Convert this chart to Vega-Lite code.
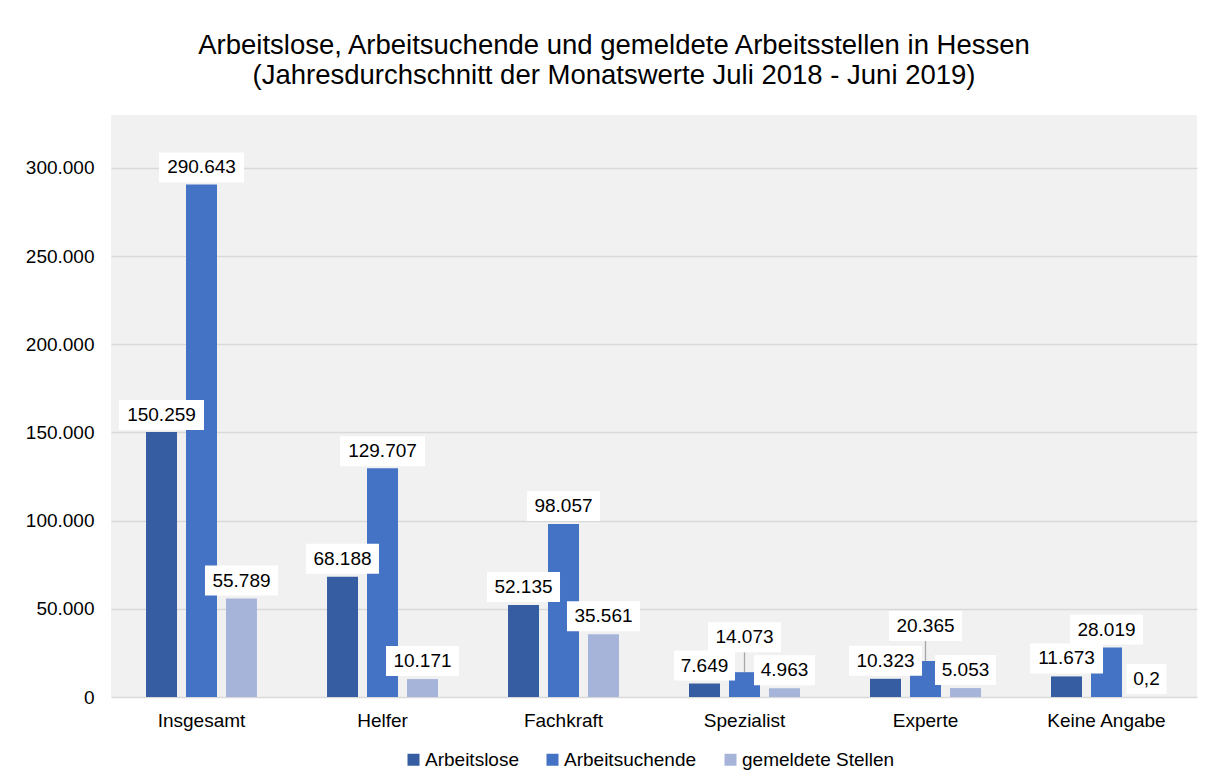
{
  "$schema": "https://vega.github.io/schema/vega-lite/v6.json",
  "autosize": "none",
  "width": 1086,
  "height": 582,
  "padding": {"left": 111, "top": 115, "right": 8, "bottom": 85},
  "background": "white",
  "config": {
    "locale": {"number": {"decimal": ",", "thousands": ".", "grouping": [3], "currency": ["", " €"]}},
    "font": "Liberation Sans",
    "view": {"fill": "#f1f1f1", "stroke": null}
  },
  "title": {
    "text": ["Arbeitslose, Arbeitsuchende und gemeldete Arbeitsstellen in Hessen", "(Jahresdurchschnitt der Monatswerte Juli 2018 - Juni 2019)"],
    "font": "Liberation Sans",
    "fontSize": 27.5,
    "fontWeight": "normal",
    "color": "#000000",
    "anchor": "middle",
    "dx": -40,
    "offset": 26,
    "lineHeight": 30
  },
  "data": {
    "values": [
      {"category": "Insgesamt", "series": "Arbeitslose", "value": 150259},
      {"category": "Insgesamt", "series": "Arbeitsuchende", "value": 290643},
      {"category": "Insgesamt", "series": "gemeldete Stellen", "value": 55789},
      {"category": "Helfer", "series": "Arbeitslose", "value": 68188},
      {"category": "Helfer", "series": "Arbeitsuchende", "value": 129707},
      {"category": "Helfer", "series": "gemeldete Stellen", "value": 10171},
      {"category": "Fachkraft", "series": "Arbeitslose", "value": 52135},
      {"category": "Fachkraft", "series": "Arbeitsuchende", "value": 98057},
      {"category": "Fachkraft", "series": "gemeldete Stellen", "value": 35561},
      {"category": "Spezialist", "series": "Arbeitslose", "value": 7649},
      {"category": "Spezialist", "series": "Arbeitsuchende", "value": 14073},
      {"category": "Spezialist", "series": "gemeldete Stellen", "value": 4963},
      {"category": "Experte", "series": "Arbeitslose", "value": 10323},
      {"category": "Experte", "series": "Arbeitsuchende", "value": 20365},
      {"category": "Experte", "series": "gemeldete Stellen", "value": 5053},
      {"category": "Keine Angabe", "series": "Arbeitslose", "value": 11673},
      {"category": "Keine Angabe", "series": "Arbeitsuchende", "value": 28019},
      {"category": "Keine Angabe", "series": "gemeldete Stellen", "value": 0.2}
    ]
  },
  "encoding": {
    "x": {
      "field": "category", "type": "nominal", "sort": null,
      "scale": {"paddingInner": 0.387, "paddingOuter": 0.1935},
      "axis": {"title": null, "labelAngle": 0, "labelFontSize": 19, "labelColor": "#000000", "labelPadding": 14, "ticks": false, "domain": false, "labelFont": "Liberation Sans"}
    },
    "xOffset": {
      "field": "series", "type": "nominal",
      "sort": ["Arbeitslose", "Arbeitsuchende", "gemeldete Stellen"],
      "scale": {"paddingInner": 0.225, "paddingOuter": 0}
    },
    "y": {
      "field": "value", "type": "quantitative",
      "scale": {"domain": [0, 330000], "nice": false, "zero": true},
      "axis": {"title": null, "values": [0, 50000, 100000, 150000, 200000, 250000, 300000], "format": ",.0f", "labelFontSize": 19, "labelColor": "#000000", "labelPadding": 17, "ticks": false, "domain": false, "gridColor": "#d9d9d9", "gridWidth": 1.5, "labelFont": "Liberation Sans"}
    }
  },
  "layer": [
    {
      "mark": {"type": "bar"},
      "encoding": {
        "color": {
          "field": "series", "type": "nominal",
          "sort": ["Arbeitslose", "Arbeitsuchende", "gemeldete Stellen"],
          "scale": {"domain": ["Arbeitslose", "Arbeitsuchende", "gemeldete Stellen"], "range": ["#365ca1", "#4472c4", "#a6b4da"]},
          "legend": {
            "title": null, "orient": "none", "direction": "horizontal",
            "legendX": 293, "legendY": 635, "padding": 0,
            "symbolType": "square", "symbolSize": 144, "symbolStrokeWidth": 0,
            "labelFontSize": 19, "labelFont": "Liberation Sans", "labelColor": "#000000",
            "labelOffset": 2, "columnPadding": 24
          }
        }
      }
    },
    {
      "transform": [{"filter": "datum.series == 'Arbeitsuchende' && (datum.category == 'Spezialist' || datum.category == 'Experte')"}],
      "mark": {"type": "rule", "color": "#a6a6a6", "strokeWidth": 1.3, "y2Offset": -20},
      "encoding": {"y2": {"field": "value"}}
    },
    {
      "transform": [{"filter": "datum.value >= 100000"}],
      "mark": {"type": "point", "shape": "M-1,-0.353L1,-0.353L1,0.353L-1,0.353Z", "size": 7225, "filled": true, "fill": "white", "opacity": 1, "strokeWidth": 0, "yOffset": -17}
    },
    {
      "transform": [{"filter": "datum.value >= 10000 && datum.value < 100000 && !(datum.series == 'Arbeitsuchende' && (datum.category == 'Spezialist' || datum.category == 'Experte'))"}],
      "mark": {"type": "point", "shape": "M-1,-0.411L1,-0.411L1,0.411L-1,0.411Z", "size": 5329, "filled": true, "fill": "white", "opacity": 1, "strokeWidth": 0, "yOffset": -18}
    },
    {
      "transform": [{"filter": "datum.series == 'Arbeitsuchende' && (datum.category == 'Spezialist' || datum.category == 'Experte')"}],
      "mark": {"type": "point", "shape": "M-1,-0.411L1,-0.411L1,0.411L-1,0.411Z", "size": 5329, "filled": true, "fill": "white", "opacity": 1, "strokeWidth": 0, "yOffset": -35}
    },
    {
      "transform": [{"filter": "datum.value >= 1 && datum.value < 10000"}],
      "mark": {"type": "point", "shape": "M-1,-0.492L1,-0.492L1,0.492L-1,0.492Z", "size": 3721, "filled": true, "fill": "white", "opacity": 1, "strokeWidth": 0, "yOffset": -18}
    },
    {
      "transform": [{"filter": "datum.value < 1"}],
      "mark": {"type": "point", "shape": "M-1,-0.75L1,-0.75L1,0.75L-1,0.75Z", "size": 1600, "filled": true, "fill": "white", "opacity": 1, "strokeWidth": 0, "yOffset": -18}
    },
    {
      "transform": [{"filter": "datum.value >= 100000"}],
      "mark": {"type": "text", "fontSize": 19, "font": "Liberation Sans", "color": "#000000", "baseline": "middle", "yOffset": -17},
      "encoding": {"text": {"field": "value", "type": "quantitative", "format": ","}}
    },
    {
      "transform": [{"filter": "datum.value < 100000 && !(datum.series == 'Arbeitsuchende' && (datum.category == 'Spezialist' || datum.category == 'Experte'))"}],
      "mark": {"type": "text", "fontSize": 19, "font": "Liberation Sans", "color": "#000000", "baseline": "middle", "yOffset": -18},
      "encoding": {"text": {"field": "value", "type": "quantitative", "format": ","}}
    },
    {
      "transform": [{"filter": "datum.series == 'Arbeitsuchende' && (datum.category == 'Spezialist' || datum.category == 'Experte')"}],
      "mark": {"type": "text", "fontSize": 19, "font": "Liberation Sans", "color": "#000000", "baseline": "middle", "yOffset": -35},
      "encoding": {"text": {"field": "value", "type": "quantitative", "format": ","}}
    }
  ]
}
